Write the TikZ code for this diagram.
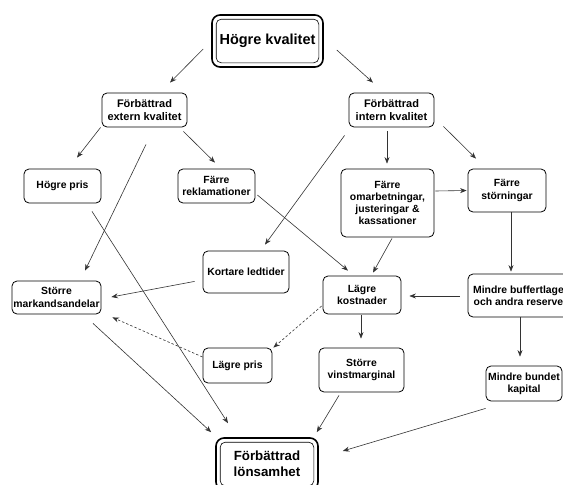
\documentclass[tikz,border=0pt]{standalone}
\usepackage{fontspec}
\setmainfont{Liberation Sans}
\usetikzlibrary{arrows.meta}

\tikzset{
  box/.style={draw=black, line width=0.8pt, rounded corners=5pt, fill=white,
    align=center, inner sep=0pt, font=\fontsize{10.4}{12.2}\selectfont\bfseries},
  mainbox/.style={box, font=\fontsize{11}{13}\selectfont\bfseries},
  framebox/.style={draw=black, line width=1.6pt, rounded corners=8pt, fill=white,
    align=center, inner sep=0pt},
  innerframe/.style={draw=black, line width=0.6pt, rounded corners=5pt},
  arr/.style={draw=black!80, line width=0.6pt, -{Stealth[length=6.5pt,width=5pt]}},
  darr/.style={arr, dash pattern=on 2.5pt off 2pt},
}

\begin{document}
\begin{tikzpicture}[x=1pt,y=-1pt]
\clip (0,0) rectangle (563,485);
\fill[white] (0,0) rectangle (563,485);

% top and bottom framed boxes
\node[framebox, minimum width=111, minimum height=52,
  font=\fontsize{14.5}{17}\selectfont\bfseries] (top) at (267.5,41) {Högre kvalitet};
\draw[innerframe] ([shift={(5,5)}]top.north west) rectangle ([shift={(-5,-5)}]top.south east);

\node[framebox, minimum width=102, minimum height=52,
  font=\fontsize{13.3}{16}\selectfont\bfseries] (lons) at (267,464) {Förbättrad\\lönsamhet};
\draw[innerframe] ([shift={(5,5)}]lons.north west) rectangle ([shift={(-5,-5)}]lons.south east);

% intermediate boxes
\node[mainbox, minimum width=85, minimum height=34] (ext) at (144.5,110) {Förbättrad\\extern kvalitet};
\node[mainbox, minimum width=85, minimum height=34] (int) at (391.5,110) {Förbättrad\\intern kvalitet};
\node[box, minimum width=77, minimum height=34] (hpris) at (62.5,186) {Högre pris};
\node[box, minimum width=77, minimum height=34] (rekl) at (216.5,186) {Färre\\reklamationer};
\node[box, minimum width=93, minimum height=68] (omarb) at (387.5,203) {Färre\\omarbetningar,\\justeringar \&\\kassationer};
\node[box, minimum width=78, minimum height=43] (storn) at (507,190.5) {Färre\\störningar};
\node[box, minimum width=86, minimum height=42] (kort) at (246,272) {Kortare ledtider};
\node[box, minimum width=89, minimum height=33] (mark) at (56.5,297.5) {Större\\markandsandelar};
\node[box, minimum width=78, minimum height=38] (kost) at (362,295) {Lägre\\kostnader};
\node[box, minimum width=105, minimum height=43] (buff) at (520.5,295.5) {Mindre buffertlager\\och andra reserver};
\node[box, minimum width=69, minimum height=35] (lpris) at (237.5,365.5) {Lägre pris};
\node[box, minimum width=85, minimum height=44] (vinst) at (361.5,370) {Större\\vinstmarginal};
\node[box, minimum width=76, minimum height=35] (bund) at (524,383.5) {Mindre bundet\\kapital};

% connectors
\draw[arr] ([shift={(-8,8)}]top.west) -- ([shift={(25.5,-10)}]ext.north);
\draw[arr] ([shift={(13,9)}]top.east) -- ([shift={(-18.5,-10)}]int.north);
\draw[arr] ([shift={(-1,0)}]ext.south west) -- ([shift={(14.5,-11)}]hpris.north);
\draw[arr] ([shift={(1.5,17)}]ext.south) -- ([shift={(28.5,-10)}]mark.north);
\draw[arr] ([shift={(-4,4)}]ext.south east) -- ([shift={(-1.5,-6)}]rekl.north);
\draw[arr] ([shift={(-4.5,4)}]int.south) -- ([shift={(-0.5,-5)}]omarb.north);
\draw[arr] ([shift={(9,-1)}]int.south east) -- ([shift={(-31,-10)}]storn.north);
\draw[arr] ([shift={(-4,8)}]int.south west) -- ([shift={(19,-6)}]kort.north);
\draw[arr] ([shift={(29.5,8)}]hpris.south) -- ([shift={(-39,-14)}]lons.north);
\draw[arr] ([shift={(2,9)}]rekl.east) -- ([shift={(-14,-5)}]kost.north);
\draw[arr] ([shift={(1,-12)}]omarb.east) -- ([shift={(-1,0)}]storn.west);
\draw[arr] ([shift={(4.5,1)}]omarb.south) -- ([shift={(11,-3)}]kost.north);
\draw[arr] ([shift={(4,0)}]storn.south) -- ([shift={(-9.5,-2)}]buff.north);
\draw[arr] ([shift={(-8,-12)}]kort.south west) -- ([shift={(10,-0.5)}]mark.east);
\draw[arr] ([shift={(-8,0.5)}]buff.west) -- ([shift={(8,1)}]kost.east);
\draw[arr] ([shift={(-1,1)}]kost.south) -- ([shift={(-0.5,-9)}]vinst.north);
\draw[darr] ([shift={(-1,11)}]kost.west) -- ([shift={(1,0)}]lpris.north east);
\draw[darr] ([shift={(0,-8.5)}]lpris.west) -- ([shift={(11,3)}]mark.south east);
\draw[arr] ([shift={(36.5,9)}]mark.south) -- ([shift={(-4,-5)}]lons.north west);
\draw[arr] ([shift={(-0.5,0)}]buff.south) -- ([shift={(-4,-9)}]bund.north);
\draw[arr] ([shift={(-22.5,3)}]vinst.south) -- ([shift={(-2,-5)}]lons.north east);
\draw[arr] ([shift={(0,7)}]bund.south west) -- ([shift={(24,-13)}]lons.east);
\end{tikzpicture}
\end{document}
